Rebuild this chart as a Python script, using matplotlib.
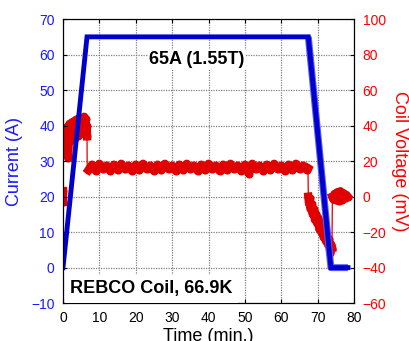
import matplotlib
matplotlib.use("Agg")
import matplotlib.pyplot as plt

plt.rcParams['font.family'] = ['Liberation Sans', 'DejaVu Sans']

# current (A) vs time (min)
t_cur = [0, 6.6, 67.4, 73.6, 78.3]
i_cur = [0, 65, 65, 0, 0]
t_down = [67.4, 73.6, 78.3]
i_down = [65, 0, 0]

# coil voltage (mV) vs time (min)
t_v = [0.0, 0.0, 0.05, 0.2, 0.4, 0.6, 0.8, 1.0, 1.2, 1.4, 1.6, 1.8, 2.0, 2.2, 2.4,
       2.6, 2.8, 3.0, 3.2, 3.4, 3.6, 3.8, 4.0, 4.2, 4.4, 4.6, 4.8, 5.0, 5.2, 5.4,
       5.6, 5.8, 6.0, 6.2, 6.4, 6.5, 6.6, 6.65,
       7, 8, 9, 10, 11, 12, 13, 14, 15, 16, 17, 18, 19, 20, 21, 22, 23, 24, 25,
       26, 27, 28, 29, 30, 31, 32, 33, 34, 35, 36, 37, 38, 39, 40, 41, 42, 43,
       44, 45, 46, 47, 48, 49, 50, 51, 52, 53, 54, 55, 56, 57, 58, 59, 60, 61,
       62, 63, 64, 65, 66, 67, 67.3,
       67.4, 67.6, 67.8, 68.0, 68.3, 68.6, 68.9, 69.2, 69.5, 69.8, 70.1, 70.4,
       70.7, 71.0, 71.3, 71.6, 71.9, 72.2, 72.5, 72.8, 73.1, 73.4, 73.7, 73.9,
       74.0, 74.3, 74.6, 75.0, 75.4, 75.8, 76.2, 76.6, 77.0, 77.4, 77.8, 78.2]
v_coil = [-3, 3, 28, 38, 26, 36, 30, 39, 29, 22, 31, 41, 33, 40, 32,
          42, 34, 40, 33, 43, 35, 41, 34, 44, 36, 42, 35, 44, 37, 43,
          36, 45, 37, 44, 36, 40, 34, 17,
          15, 18, 14.5, 18.5, 15.5, 17.5, 14.5, 18, 15, 18.5, 15.5, 17.5, 14.5,
          18, 15, 18.5, 15.5, 17.5, 14.5, 18, 15, 18.5, 15.5, 17.5, 14.5, 18,
          15, 18.5, 15.5, 17.5, 14.5, 18, 15, 18.5, 15.5, 17.5, 14.5, 18, 15,
          18.5, 15.5, 17.5, 14.5, 18, 13, 18.5, 15.5, 17.5, 14.5, 18, 15, 18.5,
          15.5, 17.5, 14.5, 18, 15, 18.5, 15.5, 17.5, 15, 16,
          0, -4, -1, -7, -4, -10, -7, -13, -10, -15, -12, -18, -15, -20, -17,
          -23, -19, -25, -22, -27, -24, -32, -27, -29,
          0, -1.5, 1.5, -2, 2.5, -2.5, 3, -2, 2, -1, 1, 0]
# index ranges of the dense (noisy) parts of the voltage record
clusters = [(0, 2), (2, 37), (38, 100), (100, 124), (124, 136)]

blue = '#0000cc'
red = '#e00000'

fig = plt.figure(figsize=(4.09, 3.41), dpi=100)
fig.subplots_adjust(left=0.154, right=0.866, bottom=0.111, top=0.944)
ax = fig.add_subplot(111)
ax2 = ax.twinx()

ax2.plot(t_v, v_coil, color=red, lw=0.9)
for a, b in clusters:
    ax2.plot(t_v[a:b], v_coil[a:b], color=red, lw=6, marker='o', ms=5,
             mfc=red, mec=red, mew=0.8, solid_joinstyle='round')
ax2.set_ylim(-60, 100)
ax2.set_yticks(range(-60, 101, 20))
ax2.xaxis.set_visible(True)
ax2.tick_params(axis='x', bottom=False, top=False, labelbottom=False,
                labeltop=False)
ax2.grid(True, color='#808080', ls=(0, (1, 1)), lw=0.9)
ax2.set_ylabel('Coil Voltage (mV)', color='#ff0000', fontsize=13, rotation=270,
               labelpad=16)
ax2.tick_params(axis='y', colors='#ff0000', labelsize=10, direction='in',
                length=3, pad=6)

ax.set_zorder(ax2.get_zorder() + 1)
ax.patch.set_visible(False)
ax.plot(t_down, i_down, color='#5a5aff', lw=5, solid_capstyle='butt')
ax.plot(t_cur, i_cur, color=blue, lw=3.5, solid_joinstyle='miter')
ax.set_xlim(0, 80)
ax.set_ylim(-10, 70)
ax.set_xticks(range(0, 81, 10))
ax.set_yticks(range(-10, 71, 10))
ax.set_xlabel('Time (min.)', fontsize=13, labelpad=2)
ax.set_ylabel('Current (A)', color='#1a1aff', fontsize=13, labelpad=6)
ax.tick_params(axis='y', colors='#1a1aff', labelsize=10, direction='in',
               length=3, pad=6)
ax.tick_params(axis='x', labelsize=10, direction='in', length=3, pad=6,
               top=True, colors='black')
ax.tick_params(axis='y', color='black')
ax2.tick_params(axis='y', color='black')

ax.text(36.8, 58.5, '65A (1.55T)', fontsize=13, fontweight='bold',
        ha='center', va='center',
        bbox=dict(facecolor='white', edgecolor='none', pad=1))
ax.text(2, -6, 'REBCO Coil, 66.9K', fontsize=13, fontweight='bold',
        ha='left', va='center',
        bbox=dict(facecolor='white', edgecolor='none', pad=4))

fig.savefig('out.png', dpi=100)
